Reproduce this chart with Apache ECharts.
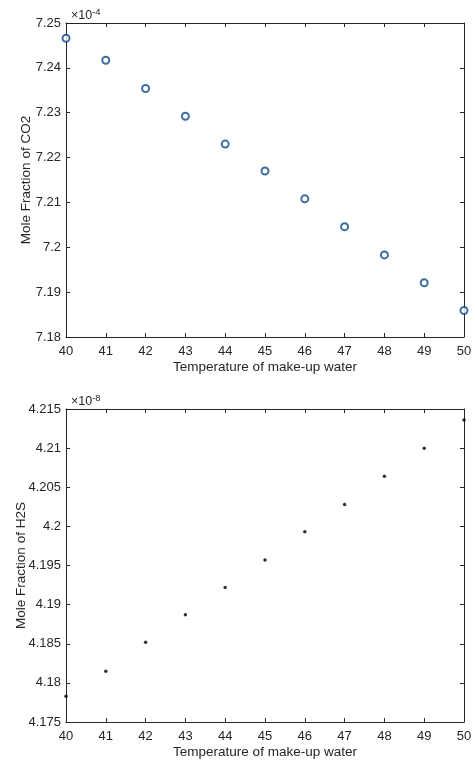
<!DOCTYPE html>
<html><head><meta charset="utf-8">
<script src="https://cdn.jsdelivr.net/npm/echarts@6/dist/echarts.min.js"></script>
<style>html,body{margin:0;padding:0;background:#fff}#c{width:475px;height:762px}</style>
</head><body><div id="c"></div>
<script>
// Data
var temperature = [40, 41, 42, 43, 44, 45, 46, 47, 48, 49, 50];
// Mole fraction of CO2, in units of 1e-4
var co2 = [7.2466, 7.2417, 7.2354, 7.2292, 7.2230, 7.2170, 7.2108, 7.2046, 7.1983, 7.1921, 7.1859];
// Mole fraction of H2S, in units of 1e-8
var h2s = [4.1783, 4.1815, 4.1852, 4.1887, 4.1922, 4.1957, 4.1993, 4.2028, 4.2064, 4.2100, 4.2136];
var xTitle = 'Temperature of make-up water';
var yTitles = ['Mole Fraction of CO2', 'Mole Fraction of H2S'];
var exponents = ['-4', '-8'];
var yRanges = [[7.18, 7.25, 0.01], [4.175, 4.215, 0.005]];
var yNameGaps = [33, 38];

var FONT = '"Liberation Sans", Arial, sans-serif';
var TXT = '#262626';
var grids = [
  {left: 66, top: 23, width: 398, height: 314, containLabel: false, outerBoundsMode: 'none'},
  {left: 66, top: 409, width: 398, height: 313, containLabel: false, outerBoundsMode: 'none'}
];

function pair(arr) { return temperature.map(function (t, i) { return [t, arr[i]]; }); }

var xAxes = [], yAxes = [];
[0, 1].forEach(function (g) {
  var line = {lineStyle: {color: TXT, width: 1}};
  var tick = {inside: true, length: 4, lineStyle: {color: TXT}};
  xAxes.push({type: 'value', gridIndex: g, min: 40, max: 50, interval: 1, position: 'bottom',
    axisLine: line, axisTick: tick, splitLine: {show: false},
    axisLabel: {color: TXT, fontFamily: FONT, fontSize: 13, margin: 8},
    name: xTitle, nameLocation: 'middle', nameGap: 23, nameMoveOverlap: false,
    nameTextStyle: {color: TXT, fontFamily: FONT, fontSize: 13.5}});
  xAxes.push({type: 'value', gridIndex: g, min: 40, max: 50, interval: 1, position: 'top',
    axisLine: line, axisTick: tick, splitLine: {show: false}, axisLabel: {show: false}});
  var r = yRanges[g];
  yAxes.push({type: 'value', gridIndex: g, min: r[0], max: r[1], interval: r[2], position: 'left',
    axisLine: line, axisTick: tick, splitLine: {show: false},
    axisLabel: {color: TXT, fontFamily: FONT, fontSize: 13, margin: 5},
    name: yTitles[g], nameLocation: 'middle', nameGap: yNameGaps[g], nameMoveOverlap: false,
    nameTextStyle: {color: TXT, fontFamily: FONT, fontSize: 13.5}});
  yAxes.push({type: 'value', gridIndex: g, min: r[0], max: r[1], interval: r[2], position: 'right',
    axisLine: line, axisTick: tick, splitLine: {show: false}, axisLabel: {show: false}});
});

var titles = [0, 1].map(function (g) {
  return {text: '{a|×10}{b|' + exponents[g] + '}', left: 66, top: grids[g].top - 21,
    textStyle: {fontWeight: 'normal', rich: {
      a: {fontFamily: FONT, fontSize: 12.5, color: TXT, fontWeight: 'normal'},
      b: {fontFamily: FONT, fontSize: 9.5, color: TXT, fontWeight: 'normal', padding: [0, 0, 7, 0]}
    }}};
});

var chart = echarts.init(document.getElementById('c'));
chart.setOption({
  animation: false,
  backgroundColor: '#fff',
  title: titles,
  grid: grids,
  xAxis: xAxes,
  yAxis: yAxes,
  series: [
    {type: 'scatter', xAxisIndex: 0, yAxisIndex: 0, data: pair(co2), clip: false,
      symbol: 'emptyCircle', symbolSize: 7, itemStyle: {color: '#0b4a8a', borderWidth: 1}},
    {type: 'scatter', xAxisIndex: 2, yAxisIndex: 2, data: pair(h2s), clip: false,
      symbol: 'circle', symbolSize: 3.5, itemStyle: {color: '#000'}}
  ]
});
</script></body></html>
